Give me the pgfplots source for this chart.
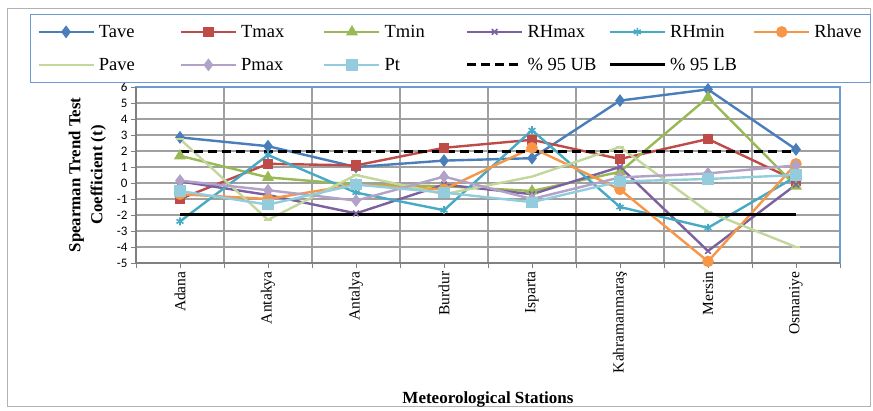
\documentclass[border=0pt]{standalone}
\usepackage{fontspec}
\setmainfont{Liberation Serif}
\newfontfamily\calibri{Carlito}
\usepackage{pgfplots}
\pgfplotsset{compat=1.18}
\definecolor{cTave}{HTML}{4A7EBB}
\definecolor{cTmax}{HTML}{BE4B48}
\definecolor{cTmin}{HTML}{98B954}
\definecolor{cRHmax}{HTML}{7D60A0}
\definecolor{cRHmin}{HTML}{46AAC5}
\definecolor{cRhave}{HTML}{F79646}
\definecolor{cPave}{HTML}{C3D69B}
\definecolor{cPmax}{HTML}{B3A2C7}
\definecolor{cPt}{HTML}{93CDDD}
\definecolor{cBorder}{HTML}{6C9BD2}
\definecolor{cGrid}{HTML}{A0A0A0}
\begin{document}
\begin{tikzpicture}
\useasboundingbox (-136pt,-147pt) rectangle (737pt,263pt);
\draw[gray!60, line width=0.8pt] (-129pt,-143pt) rectangle (734pt,255pt);
\begin{axis}[
  scale only axis, width=704pt, height=176pt,
  xmin=-0.5, xmax=7.5, ymin=-5, ymax=6,
  ytick={-5,...,6},
  xtick={0,...,7},
  xticklabels={Adana,Antakya,Antalya,Burdur,Isparta,Kahramanmaraş,Mersin,Osmaniye},
  minor xtick={-0.5,0.5,...,7.5},
  xminorgrids, ymajorgrids,
  grid style={draw=cGrid, line width=1.3pt},
  minor grid style={draw=cGrid, line width=1.3pt},
  tick pos=left, tick align=outside,
  major tick length=5pt, minor tick length=5pt,
  tick style={draw=gray, line width=0.9pt},
  minor tick style={draw=gray, line width=0.9pt},
  axis line style={draw=cBorder, line width=1.3pt},
  clip=false,
  xticklabel style={rotate=90, anchor=east, font=\fontsize{15.5}{18}\selectfont},
  yticklabel style={font=\calibri\fontsize{13}{14}\selectfont, /pgf/number format/assume math mode=true},
  ylabel={Spearman Trend Test\\Coefficient (t)},
  ylabel style={align=center, font=\bfseries\fontsize{16.8}{22}\selectfont, at={(axis description cs:-0.069,0.5)}, anchor=center},
  xlabel={Meteorological Stations},
  xlabel style={at={(axis description cs:0.5,-0.778)}, anchor=center, font=\bfseries\fontsize{17}{20}\selectfont},
  legend columns=6,
  legend cell align=left,
  legend style={
    at={(axis description cs:-0.1506,1.4148)}, anchor=north west,
    draw=cBorder, line width=0.8pt,
    font=\fontsize{18.5}{20}\selectfont,
    column sep=2pt,
    /tikz/column 2/.append style={column sep=43pt},
    /tikz/column 4/.append style={column sep=37pt},
    /tikz/column 6/.append style={column sep=39pt},
    /tikz/column 8/.append style={column sep=10pt},
    /tikz/column 10/.append style={column sep=14pt},
    row sep=12pt,
    nodes={inner sep=2pt, text height=14pt, text depth=3pt},
    inner sep=7pt,
  },
  legend image code/.code={\draw[mark repeat=2,mark phase=2,#1] plot coordinates {(0pt,0pt) (27.5pt,0pt) (55pt,0pt)};},
]
\addplot[cTave, line width=2.4pt, mark=diamond*, mark size=4.5pt] coordinates {(0,2.85) (1,2.3) (2,1.0) (3,1.4) (4,1.55) (5,5.15) (6,5.85) (7,2.1)};
\addlegendentry{Tave}
\addplot[cTmax, line width=2.4pt, mark=square*, mark size=4pt] coordinates {(0,-1.0) (1,1.2) (2,1.1) (3,2.2) (4,2.7) (5,1.5) (6,2.75) (7,0.15)};
\addlegendentry{Tmax}
\addplot[cTmin, line width=2.4pt, mark=triangle*, mark size=4.5pt] coordinates {(0,1.7) (1,0.35) (2,-0.1) (3,-0.2) (4,-0.5) (5,0.7) (6,5.35) (7,-0.2)};
\addlegendentry{Tmin}
\addplot[cRHmax, line width=2.4pt, mark=x, mark size=4pt, mark options={line width=1.6pt}] coordinates {(0,0.1) (1,-0.75) (2,-1.9) (3,-0.1) (4,-0.7) (5,1.0) (6,-4.25) (7,-0.1)};
\addlegendentry{RHmax}
\addplot[cRHmin, line width=2.4pt, mark=asterisk, mark size=4pt, mark options={line width=1.6pt}] coordinates {(0,-2.4) (1,1.75) (2,-0.6) (3,-1.7) (4,3.3) (5,-1.5) (6,-2.8) (7,0.4)};
\addlegendentry{RHmin}
\addplot[cRhave, line width=2.4pt, mark=*, mark size=4.5pt] coordinates {(0,-0.7) (1,-1.0) (2,-0.1) (3,-0.4) (4,2.2) (5,-0.4) (6,-4.9) (7,1.2)};
\addlegendentry{Rhave}
\addplot[cPave, line width=2.4pt, mark=-, mark size=4pt, mark options={line width=1.6pt}] coordinates {(0,2.75) (1,-2.3) (2,0.5) (3,-0.7) (4,0.4) (5,2.25) (6,-1.8) (7,-4.0)};
\addlegendentry{Pave}
\addplot[cPmax, line width=2.4pt, mark=diamond*, mark size=4.5pt] coordinates {(0,0.15) (1,-0.45) (2,-1.1) (3,0.4) (4,-1.0) (5,0.35) (6,0.6) (7,1.1)};
\addlegendentry{Pmax}
\addplot[cPt, line width=2.4pt, mark=square*, mark size=4.5pt] coordinates {(0,-0.5) (1,-1.35) (2,-0.1) (3,-0.6) (4,-1.2) (5,0.1) (6,0.25) (7,0.5)};
\addlegendentry{Pt}
\addplot[black, line width=2.8pt, dash pattern=on 9pt off 5pt] coordinates {(0,1.96) (1,1.96) (2,1.96) (3,1.96) (4,1.96) (5,1.96) (6,1.96) (7,1.96)};
\addlegendentry{\% 95 UB}
\addplot[black, line width=2.8pt] coordinates {(0,-1.96) (1,-1.96) (2,-1.96) (3,-1.96) (4,-1.96) (5,-1.96) (6,-1.96) (7,-1.96)};
\addlegendentry{\% 95 LB}
\draw[gray, line width=1.3pt] (rel axis cs:0,1) -- (rel axis cs:0,0) -- (rel axis cs:1,0);
\end{axis}
\end{tikzpicture}
\end{document}
